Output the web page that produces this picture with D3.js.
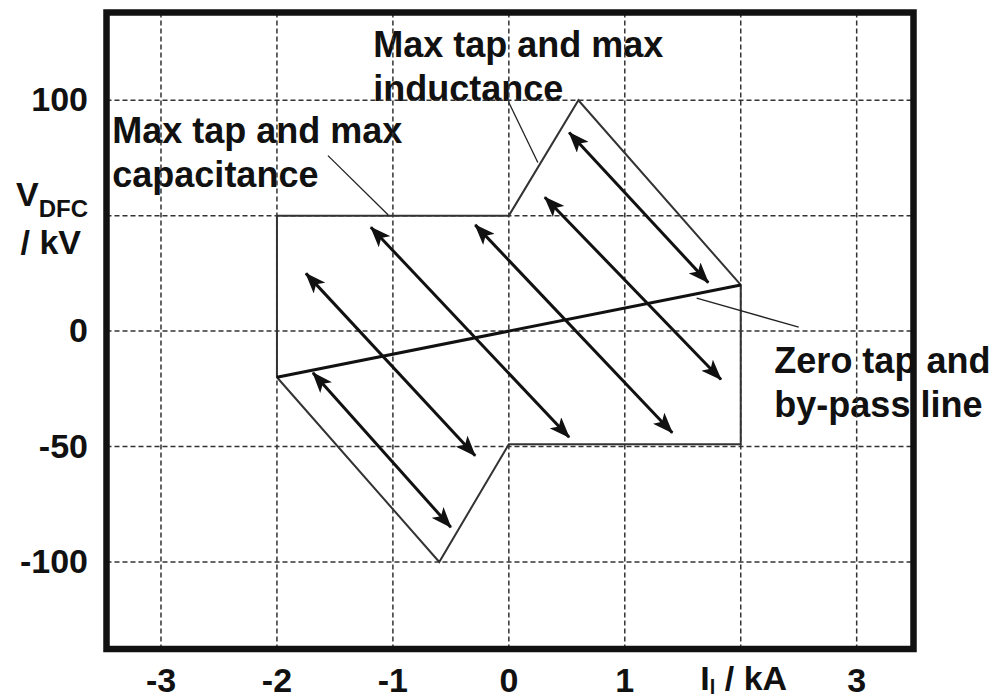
<!DOCTYPE html>
<html>
<head>
<meta charset="utf-8">
<script src="https://cdn.jsdelivr.net/npm/d3@7"></script>
<style>
  body { margin: 0; background: #fff; }
  svg text { font-family: "Liberation Sans", Arial, Helvetica, sans-serif; font-weight: bold; fill: #111; }
</style>
</head>
<body>
<svg id="chart" width="1000" height="699"></svg>
<script>
// axis ticks (the 50 kV and 2 kA labels are replaced by the axis titles)
const xTicks = [-3, -2, -1, 0, 1, 2, 3];
const xTickLabels = ["-3", "-2", "-1", "0", "1", "", "3"];
const yTicks = [-100, -50, 0, 50, 100];
const yTickLabels = ["-100", "-50", "0", "", "100"];

// operating region outline (I / kA, V / kV)
const region = [[-2, 50], [0, 50], [0.6, 100], [2, 20], [2, -49], [0, -49], [-0.6, -100], [-2, -20]];
// zero tap / by-pass line
const bypass = [[-2, -20], [2, 20]];
// double headed arrows
const arrows = [
    [[-1.75, 25], [-0.29, -54]],
    [[-1.19, 45], [0.52, -46]],
    [[-0.29, 46], [1.41, -44]],
    [[0.31, 58], [1.83, -21]],
    [[0.52, 86], [1.72, 21]],
    [[-1.69, -18], [-0.5, -85]]
];
// annotation leader lines
const leaders = [
    [[-1.56, 76], [-1.04, 50.3]],
    [[0.0, 99], [0.25, 73]],
    [[1.62, 14.3], [2.5, 1.7]]
];
// annotation texts, position in data units of the first line
const notes = [
    { x: -3.42, y: 81.5, lines: ["Max tap and max", "capacitance"] },
    { x: -1.17, y: 118.8, lines: ["Max tap and max", "inductance"] },
    { x: 2.29, y: -18.3, lines: ["Zero tap and", "by-pass line"] }
];

const svg = d3.select("#chart");

const x = d3.scaleLinear().domain([-3.47, 3.49]).range([106.5, 913.5]);
const y = d3.scaleLinear().domain([-137.7, 138]).range([649, 12.5]);

const line = d3.line().x(d => x(d[0])).y(d => y(d[1]));

// arrow head marker
svg.append("defs").append("marker")
    .attr("id", "head")
    .attr("markerUnits", "userSpaceOnUse")
    .attr("viewBox", "0 0 21 16")
    .attr("refX", 20)
    .attr("refY", 8)
    .attr("markerWidth", 21)
    .attr("markerHeight", 16)
    .attr("orient", "auto-start-reverse")
    .append("path")
    .attr("d", "M0,0 L21,8 L0,16 L5,8 Z")
    .attr("fill", "#111");

// annotation texts go under the grid
const noteG = svg.append("g");
notes.forEach(n => {
    const t = noteG.append("text")
        .attr("x", x(n.x))
        .attr("y", y(n.y))
        .style("font-size", "36px");
    n.lines.forEach((s, i) => {
        t.append("tspan")
            .attr("x", x(n.x))
            .attr("dy", i === 0 ? 0 : 44)
            .text(s);
    });
});

// grid
svg.append("g")
    .selectAll("line.vg")
    .data(xTicks)
    .enter()
    .append("line")
    .attr("x1", d => x(d))
    .attr("x2", d => x(d))
    .attr("y1", y(138))
    .attr("y2", y(-137.7))
    .attr("stroke", "#333")
    .attr("stroke-width", 1.5)
    .attr("stroke-dasharray", "5,3");

svg.append("g")
    .selectAll("line.hg")
    .data(yTicks)
    .enter()
    .append("line")
    .attr("x1", x(-3.47))
    .attr("x2", x(3.49))
    .attr("y1", d => y(d))
    .attr("y2", d => y(d))
    .attr("stroke", "#333")
    .attr("stroke-width", 1.5)
    .attr("stroke-dasharray", "5,3");

// region outline
svg.append("path")
    .datum(region)
    .attr("d", d => line(d) + "Z")
    .attr("fill", "none")
    .attr("stroke", "#333")
    .attr("stroke-width", 2);

// by-pass line
svg.append("path")
    .datum(bypass)
    .attr("d", line)
    .attr("fill", "none")
    .attr("stroke", "#111")
    .attr("stroke-width", 3);

// leader lines
svg.append("g")
    .selectAll("path")
    .data(leaders)
    .enter()
    .append("path")
    .attr("d", line)
    .attr("stroke", "#222")
    .attr("stroke-width", 1.3);

// arrows
svg.append("g")
    .selectAll("path")
    .data(arrows)
    .enter()
    .append("path")
    .attr("d", line)
    .attr("stroke", "#111")
    .attr("stroke-width", 3)
    .attr("marker-start", "url(#head)")
    .attr("marker-end", "url(#head)");

// frame
svg.append("rect")
    .attr("x", x(-3.47))
    .attr("y", y(138))
    .attr("width", x(3.49) - x(-3.47))
    .attr("height", y(-137.7) - y(138))
    .attr("fill", "none")
    .attr("stroke", "#111")
    .attr("stroke-width", 6.5);

// tick labels
svg.append("g")
    .selectAll("text")
    .data(xTicks)
    .enter()
    .append("text")
    .attr("x", d => x(d))
    .attr("y", 692)
    .attr("text-anchor", "middle")
    .style("font-size", "34px")
    .text((d, i) => xTickLabels[i]);

svg.append("g")
    .selectAll("text")
    .data(yTicks)
    .enter()
    .append("text")
    .attr("x", 88)
    .attr("y", d => y(d) + 11)
    .attr("text-anchor", "end")
    .style("font-size", "34px")
    .text((d, i) => yTickLabels[i]);

// y axis title
const yt = svg.append("text")
    .attr("x", 88)
    .attr("y", 206)
    .attr("text-anchor", "end")
    .style("font-size", "34px");
yt.append("tspan").text("V");
yt.append("tspan").attr("dy", 11).style("font-size", "24px").text("DFC");
svg.append("text")
    .attr("x", 81)
    .attr("y", 254)
    .attr("text-anchor", "end")
    .style("font-size", "34px")
    .text("/ kV");

// x axis title in place of the "2" tick
const xt = svg.append("text")
    .attr("x", x(2) + 3)
    .attr("y", 690)
    .attr("text-anchor", "middle")
    .style("font-size", "34px");
xt.append("tspan").text("I");
xt.append("tspan").attr("dy", 4).style("font-size", "20px").text("l");
xt.append("tspan").attr("dy", -4).text(" / kA");
</script>
</body>
</html>
